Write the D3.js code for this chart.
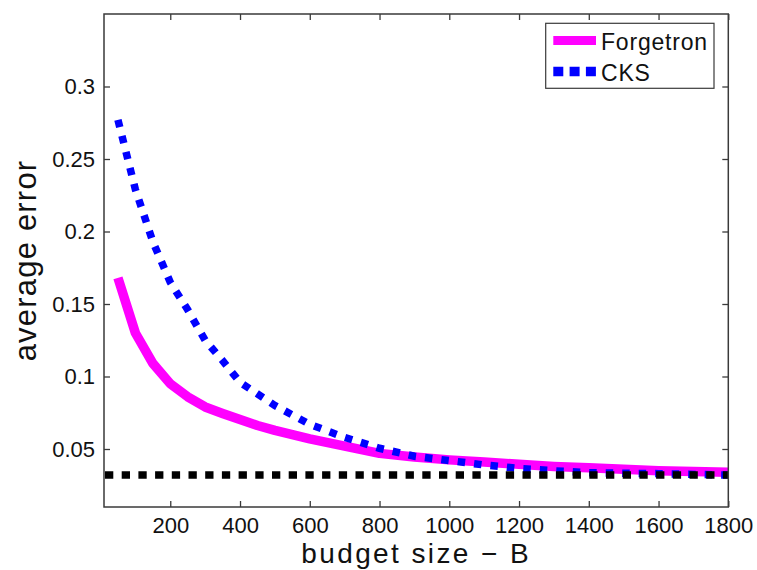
<!DOCTYPE html>
<html>
<head>
<meta charset="utf-8">
<script src="https://cdn.jsdelivr.net/npm/d3@7"></script>
<style>
  body { margin: 0; background: #fff; }
  svg { display: block; font-family: "Liberation Sans", Arial, Helvetica, sans-serif; }
</style>
</head>
<body>
<svg id="chart"></svg>
<script>
const width = 757;
const height = 570;

// -----------------------------
// DATA
// -----------------------------
const budget = [50, 100, 150, 200, 250, 300, 350, 400, 450, 500, 600, 700, 800, 900,
  1000, 1100, 1200, 1300, 1400, 1500, 1600, 1700, 1800];
const forgetronError = [0.168, 0.130, 0.109, 0.095, 0.086, 0.079, 0.0745, 0.0703, 0.0662, 0.0628,
  0.057, 0.052, 0.047, 0.0445, 0.0425, 0.041, 0.0395, 0.038, 0.037, 0.036, 0.035, 0.0345, 0.034];
const cksError = [0.277, 0.229, 0.193, 0.165, 0.146, 0.125, 0.111, 0.096, 0.088, 0.080,
  0.067, 0.058, 0.0505, 0.045, 0.042, 0.039, 0.0366, 0.035, 0.0337, 0.0333, 0.033, 0.0325, 0.032];
const baselineError = [0.032];
const xTicks = [200, 400, 600, 800, 1000, 1200, 1400, 1600, 1800];
const yTicks = [0.05, 0.1, 0.15, 0.2, 0.25, 0.3];
const seriesNames = ["Forgetron", "CKS"];

const svg = d3.select("#chart")
  .attr("width", width)
  .attr("height", height);

const box = { left: 104, right: 728.3, top: 14, bottom: 507 };

// -----------------------------
// SCALES
// -----------------------------
const x = d3.scaleLinear().domain([10, 1800]).range([box.left, box.right]);
const y = d3.scaleLinear().domain([0.01, 0.35]).range([box.bottom, box.top]);

const axisColor = "#3a3a3a";

// -----------------------------
// AXES (ticks inward, mirrored)
// -----------------------------
function styleAxis(g) {
  g.select(".domain").remove();
  g.selectAll(".tick line").attr("stroke", axisColor).attr("stroke-width", 1.3);
  g.selectAll(".tick text").attr("fill", "#111").style("font-size", "22px");
}

svg.append("g")
  .attr("transform", `translate(0,${box.bottom})`)
  .call(d3.axisBottom(x).tickValues(xTicks).tickSize(-6).tickPadding(10).tickFormat(d3.format("d")))
  .call(styleAxis);

svg.append("g")
  .attr("transform", `translate(0,${box.top})`)
  .call(d3.axisTop(x).tickValues(xTicks).tickSize(-6).tickFormat(""))
  .call(styleAxis);

svg.append("g")
  .attr("transform", `translate(${box.left},0)`)
  .call(d3.axisLeft(y).tickValues(yTicks).tickSize(-6).tickPadding(9).tickFormat(d => String(+d.toFixed(2))))
  .call(styleAxis);

svg.append("g")
  .attr("transform", `translate(${box.right},0)`)
  .call(d3.axisRight(y).tickValues(yTicks).tickSize(-6).tickFormat(""))
  .call(styleAxis);

// -----------------------------
// LINES
// -----------------------------
const line = d3.line()
  .x(d => x(d[0]))
  .y(d => y(d[1]));

svg.append("path")
  .datum(budget.map((b, i) => [b, forgetronError[i]]))
  .attr("d", line)
  .attr("fill", "none")
  .attr("stroke", "#ff00ff")
  .attr("stroke-width", 9.5)
  .attr("stroke-linejoin", "round");

svg.append("path")
  .datum(budget.map((b, i) => [b, cksError[i]]))
  .attr("d", line)
  .attr("fill", "none")
  .attr("stroke", "#0000ff")
  .attr("stroke-width", 7.5)
  .attr("stroke-dasharray", "7.5 9");

svg.append("path")
  .datum([[10, baselineError[0]], [1800, baselineError[0]]])
  .attr("d", line)
  .attr("fill", "none")
  .attr("stroke", "#000")
  .attr("stroke-width", 7.5)
  .attr("stroke-dasharray", "8.3 8.4")
  .attr("stroke-dashoffset", -1);

// axes box
svg.append("rect")
  .attr("x", box.left).attr("y", box.top)
  .attr("width", box.right - box.left).attr("height", box.bottom - box.top)
  .attr("fill", "none")
  .attr("stroke", axisColor)
  .attr("stroke-width", 1.5);

// -----------------------------
// LABELS
// -----------------------------
svg.append("text")
  .attr("x", (box.left + box.right) / 2)
  .attr("y", 563)
  .attr("text-anchor", "middle")
  .style("font-size", "28px")
  .style("letter-spacing", "2.4px")
  .attr("fill", "#111")
  .text("budget size \u2212 B");

svg.append("text")
  .attr("transform", `translate(36,${(box.top + box.bottom) / 2}) rotate(-90)`)
  .attr("text-anchor", "middle")
  .style("font-size", "31px")
  .style("letter-spacing", "1.2px")
  .attr("fill", "#111")
  .text("average error");

// -----------------------------
// LEGEND
// -----------------------------
const legend = svg.append("g");

legend.append("rect")
  .attr("x", 545.7).attr("y", 23.3)
  .attr("width", 168.3).attr("height", 65)
  .attr("fill", "#fff")
  .attr("stroke", axisColor)
  .attr("stroke-width", 1.2);

const legendStyles = [
  { color: "#ff00ff", width: 9, dash: null },
  { color: "#0000ff", width: 9.5, dash: "10 6.3" }
];

seriesNames.forEach((name, i) => {
  const cy = 40.5 + i * 31;
  legend.append("line")
    .attr("x1", 553.3).attr("x2", 596)
    .attr("y1", cy).attr("y2", cy)
    .attr("stroke", legendStyles[i].color)
    .attr("stroke-width", legendStyles[i].width)
    .attr("stroke-dasharray", legendStyles[i].dash);
  legend.append("text")
    .attr("x", 601)
    .attr("y", cy + 9)
    .style("font-size", "23px")
    .style("letter-spacing", "0.8px")
    .attr("fill", "#111")
    .text(name);
});
</script>
</body>
</html>
